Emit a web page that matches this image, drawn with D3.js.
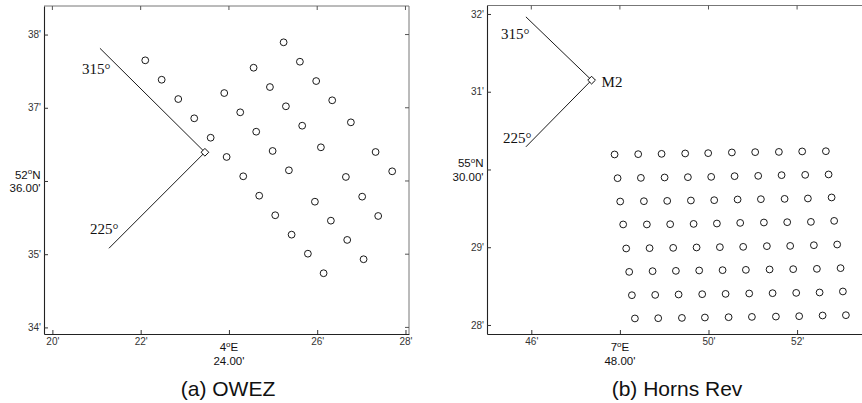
<!DOCTYPE html>
<html>
<head>
<meta charset="utf-8">
<script src="https://cdn.jsdelivr.net/npm/d3@7"></script>
<style>
  html, body { margin: 0; padding: 0; background: #fff; }
  svg { display: block; }
  .tick text { font-family: "Liberation Sans", Arial, sans-serif; font-size: 10px; fill: #333; }
</style>
</head>
<body>
<svg id="chart" width="862" height="403"></svg>
<script>
// ---- OWEZ wind farm: turbine positions (minutes of arc past 4°E / 52°N) ----
const owezLon = [
  22.104, 22.476, 22.852, 23.214, 23.586, 23.948, 24.324, 24.686, 25.049, 25.420, 25.789, 26.145,
  23.894, 24.256, 24.618, 24.990, 25.359, 25.948, 26.310, 26.680, 27.051,
  24.559, 24.929, 25.291, 25.660, 26.084, 26.650, 27.019, 27.382,
  25.239, 25.608, 25.977, 26.340, 26.763, 27.323, 27.699
];
const owezLat = [
  37.648, 37.383, 37.119, 36.856, 36.591, 36.328, 36.064, 35.799, 35.532, 35.267, 35.007, 34.740,
  37.201, 36.938, 36.673, 36.410, 36.146, 35.717, 35.458, 35.195, 34.931,
  37.547, 37.283, 37.020, 36.755, 36.460, 36.055, 35.786, 35.522,
  37.894, 37.629, 37.365, 37.102, 36.801, 36.396, 36.132
];
// met mast and the 315° / 225° sector lines
const owezMast = [23.456, 36.392];
const owezSector315 = [21.078, 37.812];
const owezSector225 = [21.282, 35.081];
const owezXTicks = [20, 22, 24, 26, 28];
const owezYTicks = [34, 35, 36, 37, 38];

// ---- Horns Rev wind farm: turbine positions (minutes past 7°E / 55°N) ----
const hornsLon = [
  47.880, 48.413, 48.941, 49.474, 49.993, 50.528, 51.054, 51.589, 52.115, 52.650,
  47.948, 48.474, 49.009, 49.535, 50.061, 50.589, 51.122, 51.650, 52.183, 52.711,
  48.007, 48.542, 49.068, 49.603, 50.129, 50.657, 51.183, 51.718, 52.244, 52.779,
  48.074, 48.609, 49.135, 49.664, 50.190, 50.716, 51.251, 51.777, 52.312, 52.837,
  48.142, 48.670, 49.203, 49.731, 50.257, 50.783, 51.318, 51.844, 52.379, 52.905,
  48.210, 48.738, 49.264, 49.790, 50.318, 50.844, 51.379, 51.912, 52.447, 52.982,
  48.271, 48.797, 49.325, 49.858, 50.386, 50.919, 51.447, 51.980, 52.508, 53.034,
  48.339, 48.865, 49.400, 49.919, 50.454, 50.980, 51.522, 52.047, 52.576, 53.102
];
const hornsLat = [
  30.193, 30.197, 30.201, 30.206, 30.210, 30.219, 30.223, 30.226, 30.232, 30.235,
  29.888, 29.892, 29.897, 29.901, 29.905, 29.914, 29.918, 29.927, 29.931, 29.936,
  29.588, 29.592, 29.596, 29.601, 29.605, 29.614, 29.618, 29.622, 29.627, 29.640,
  29.293, 29.293, 29.296, 29.300, 29.305, 29.313, 29.318, 29.322, 29.326, 29.339,
  28.984, 28.988, 28.992, 28.997, 29.001, 29.005, 29.014, 29.017, 29.026, 29.035,
  28.683, 28.692, 28.696, 28.701, 28.705, 28.709, 28.714, 28.718, 28.722, 28.731,
  28.383, 28.387, 28.392, 28.396, 28.400, 28.405, 28.409, 28.413, 28.418, 28.431,
  28.084, 28.087, 28.091, 28.096, 28.100, 28.104, 28.108, 28.113, 28.122, 28.126
];
const hornsMast = [47.361, 31.149];
const hornsSector315 = [45.878, 31.963];
const hornsSector225 = [45.878, 30.291];
const hornsXTicks = [46, 48, 50, 52];
const hornsYTicks = [28, 29, 30, 31, 32];

const svg = d3.select("#chart");
const sans = '"Liberation Sans", Arial, sans-serif';
const serif = '"Liberation Serif", "Times New Roman", serif';

function drawPanel(cfg) {
  const x = d3.scaleLinear().domain(cfg.xDomain).range(cfg.xRange);
  const y = d3.scaleLinear().domain(cfg.yDomain).range(cfg.yRange);
  const [x0, x1] = cfg.xRange, [y1, y0] = cfg.yRange;
  const g = svg.append("g");

  // frame: light top/right edges, darker left/bottom axes
  g.append("line").attr("x1", x0).attr("x2", x1).attr("y1", y0).attr("y2", y0)
    .attr("stroke", "#777").attr("stroke-width", 1);
  if (cfg.rightEdge) {
    g.append("line").attr("x1", x1).attr("x2", x1).attr("y1", y0).attr("y2", y1)
      .attr("stroke", "#777").attr("stroke-width", 1);
  }

  // inward ticks on the top and right edges
  g.selectAll(".ttick").data(cfg.xTicks).join("line")
    .attr("x1", d => x(d)).attr("x2", d => x(d)).attr("y1", y0).attr("y2", y0 + 4)
    .attr("stroke", "#555");
  if (cfg.rightEdge) {
    g.selectAll(".rtick").data(cfg.yTicks).join("line")
      .attr("x1", x1 - 4).attr("x2", x1).attr("y1", d => y(d)).attr("y2", d => y(d))
      .attr("stroke", "#555");
  }

  const xAxis = g.append("g").attr("transform", `translate(0,${y1})`)
    .call(d3.axisBottom(x).tickValues(cfg.xTicks).tickSize(-4).tickSizeOuter(0).tickPadding(4)
      .tickFormat(d => d === cfg.xCenter ? "" : d + "'"));
  const yAxis = g.append("g").attr("transform", `translate(${x0},0)`)
    .call(d3.axisLeft(y).tickValues(cfg.yTicks).tickSize(-4).tickSizeOuter(0).tickPadding(3)
      .tickFormat(d => d === cfg.yCenter ? "" : d + "'"));
  [xAxis, yAxis].forEach(a => {
    a.select(".domain").attr("stroke", "#222").attr("stroke-width", 1.1);
    a.selectAll(".tick line").attr("stroke", "#333");
  });

  // degree / minute labels at the centre ticks
  const fs = 11.5;
  const xc = g.append("text").attr("x", x(cfg.xCenter)).attr("y", 351)
    .attr("text-anchor", "middle").attr("font-family", sans).attr("font-size", fs).attr("fill", "#111");
  xc.append("tspan").text(cfg.xDeg);
  xc.append("tspan").attr("font-size", 8).attr("dy", -4.5).text("o");
  xc.append("tspan").attr("dy", 4.5).text("E");
  g.append("text").attr("x", x(cfg.xCenter)).attr("y", 364.5)
    .attr("text-anchor", "middle").attr("font-family", sans).attr("font-size", fs).attr("fill", "#111")
    .text(cfg.xCenter.toFixed(2) + "'");

  const yc = g.append("text").attr("x", x0 - 3.5).attr("y", y(cfg.yCenter) - 2)
    .attr("text-anchor", "end").attr("font-family", sans).attr("font-size", fs).attr("fill", "#111");
  yc.append("tspan").text(cfg.yDeg);
  yc.append("tspan").attr("font-size", 8).attr("dy", -4.5).text("o");
  yc.append("tspan").attr("dy", 4.5).text("N");
  g.append("text").attr("x", x0 - 3.5).attr("y", y(cfg.yCenter) + 11.2)
    .attr("text-anchor", "end").attr("font-family", sans).attr("font-size", fs).attr("fill", "#111")
    .text(cfg.yCenter.toFixed(2) + "'");

  // sector lines from the met mast
  [cfg.s315, cfg.s225].forEach(p => {
    g.append("line")
      .attr("x1", x(cfg.mast[0])).attr("y1", y(cfg.mast[1]))
      .attr("x2", x(p[0])).attr("y2", y(p[1]))
      .attr("stroke", "#000").attr("stroke-width", 0.9);
  });
  g.append("text").attr("x", x(cfg.s315[0]) + cfg.off315[0]).attr("y", y(cfg.s315[1]) + cfg.off315[1])
    .attr("font-family", serif).attr("font-size", 15).attr("fill", "#111").text("315°");
  g.append("text").attr("x", x(cfg.s225[0]) + cfg.off225[0]).attr("y", y(cfg.s225[1]) + cfg.off225[1])
    .attr("font-family", serif).attr("font-size", 15).attr("fill", "#111").text("225°");
  if (cfg.mastLabel) {
    g.append("text").attr("x", x(cfg.mast[0]) + 10).attr("y", y(cfg.mast[1]) + 6.5)
      .attr("font-family", serif).attr("font-size", 15).attr("fill", "#111").text(cfg.mastLabel);
  }

  // turbines
  g.selectAll(".turbine").data(d3.range(cfg.lon.length)).join("circle")
    .attr("cx", i => x(cfg.lon[i])).attr("cy", i => y(cfg.lat[i])).attr("r", 3.4)
    .attr("fill", "none").attr("stroke", "#000").attr("stroke-width", 0.9);

  // met mast marker
  g.append("path")
    .attr("d", d3.symbol(d3.symbolSquare, 30)())
    .attr("transform", `translate(${x(cfg.mast[0])},${y(cfg.mast[1])}) rotate(45)`)
    .attr("fill", "#fff").attr("stroke", "#000").attr("stroke-width", 0.9);

  // caption
  svg.append("text").attr("x", cfg.captionX).attr("y", 396)
    .attr("text-anchor", "middle").attr("font-family", sans).attr("font-size", 21).attr("fill", "#111")
    .text(cfg.caption);
}

drawPanel({
  xDomain: [19.81, 28.08], xRange: [44, 409],
  yDomain: [33.91, 38.39], yRange: [334, 6],
  xTicks: owezXTicks, yTicks: owezYTicks, xCenter: 24, yCenter: 36,
  xDeg: "4", yDeg: "52", rightEdge: true,
  lon: owezLon, lat: owezLat, mast: owezMast,
  s315: owezSector315, s225: owezSector225,
  off315: [-18, 26], off225: [-19, -14],
  caption: "(a) OWEZ", captionX: 228
});

drawPanel({
  xDomain: [45, 53.646], xRange: [487, 870],
  yDomain: [27.884, 32.109], yRange: [334, 5.5],
  xTicks: hornsXTicks, yTicks: hornsYTicks, xCenter: 48, yCenter: 30,
  xDeg: "7", yDeg: "55", rightEdge: false,
  lon: hornsLon, lat: hornsLat, mast: hornsMast,
  s315: hornsSector315, s225: hornsSector225,
  off315: [-25, 22], off225: [-23, -4], mastLabel: "M2",
  caption: "(b) Horns Rev", captionX: 677
});
</script>
</body>
</html>
